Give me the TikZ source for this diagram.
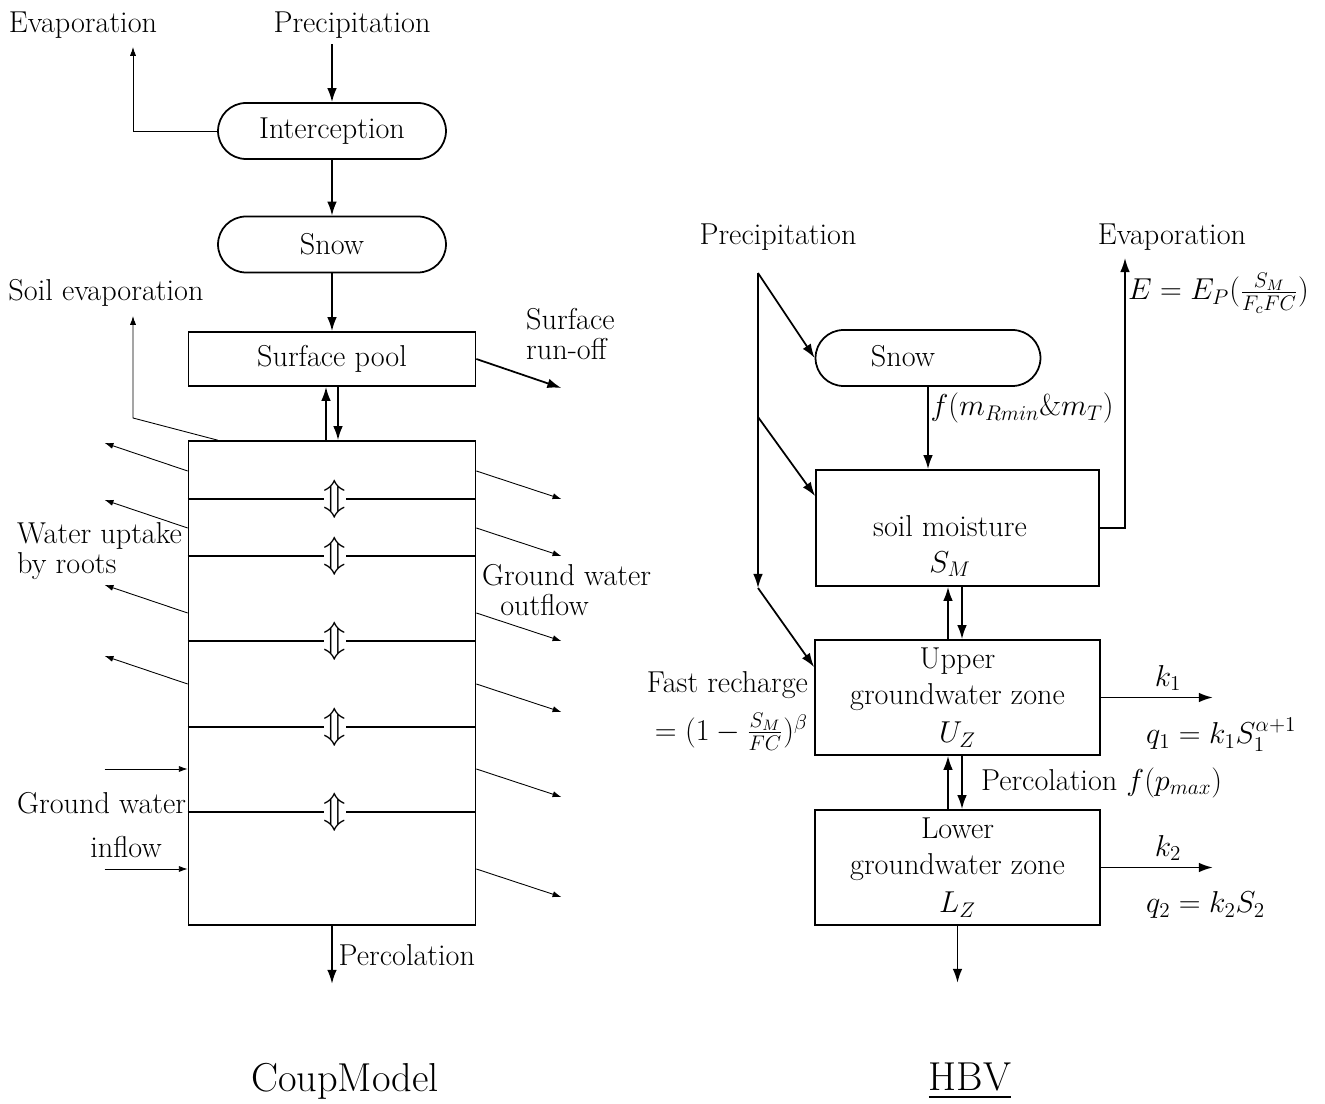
\documentclass[tikz,border=0pt]{standalone}
\usepackage{fix-cm}
\usepackage{amsmath}
\usepackage{tikz}
\usetikzlibrary{
	arrows.meta,
	calc,
	positioning
}
\tikzset{
	every node/.style={font=\fontsize{17.2}{17}\selectfont},
	roundbox/.style={draw,line width=1pt,rounded corners=0.56cm,minimum width=4.56cm,minimum height=1.12cm},
	squarebox/.style={draw,line width=1pt,minimum width=5.7cm,minimum height=2.3cm,align=center,font=\fontsize{17.2}{20.5}\selectfont},
	flow/.style={line width=1pt,-{Latex[length=8pt,width=5.5pt]}},
	thinflow/.style={line width=0.5pt,-{Latex[length=5pt,width=3.5pt]}},
	layerflux/.style={fill=white,inner sep=0pt,font=\fontsize{21}{21}\selectfont},
	title/.style={font=\fontsize{23}{26}\selectfont}
}

\begin{document}
\begin{tikzpicture}[x=0.02cm,y=-0.02cm]
			\useasboundingbox (0,0) rectangle (1325,1104);
			% CoupModel
			\node (evapL) at (83,25) {Evaporation};
			\node (precL) at (352,25) {Precipitation};
			\node[roundbox] (intc) at (332,131) {Interception};
			\node[roundbox] (snowL) at (332,244.5) {Snow};
			\node[squarebox,minimum width=5.74cm,minimum height=1.08cm] (surf) at (332,359) {Surface pool};
			\node[draw,line width=1pt,minimum width=5.74cm,minimum height=9.68cm] (soil) at (332,683) {};
			\coordinate (evL) at (133,47);
			\coordinate (sevk) at (133,418);
			\coordinate (sevt) at (133,316);
			
			\draw[flow] (intc.north |- precL.south) -- (intc.north);
			\draw[thinflow] (intc.west) -| (evL);
			\draw[flow] (intc) -- (snowL);
			\draw[flow] (snowL) -- (surf);
			\draw[flow] (surf.east) -- ++(85,29);
			\draw[flow] ($(soil.north)+(-6,0)$) -- ($(surf.south)+(-6,0)$);
			\draw[flow] ($(surf.south)+(6,0)$) -- ($(soil.north)+(6,0)$);
			\draw[thinflow] ($(soil.north west)+(30,0)$) -- (sevk) -- (sevt);
			\draw[flow] (soil.south) -- ++(0,58) node[midway,anchor=west] {Percolation};
			
			\foreach \y [count=\i] in {499,556,641,727,812} {
				\draw[line width=1pt] (soil.west |- 0,\y) -- (soil.east |- 0,\y);
				\node[layerflux] (lf\i) at (335,\y) {$\Updownarrow$};
			}
			\foreach \y in {471,528,613,684}
				\draw[thinflow] (soil.west |- 0,\y) -- ++(-83,-28);
			\foreach \y in {471,528,613,684,769,869}
				\draw[thinflow] (soil.east |- 0,\y) -- ++(85,28);
			\foreach \y in {769,869}
				\draw[thinflow] (soil.west |- 0,\y) ++(-83,0) -- (soil.west |- 0,\y);
			
			\node (soilev) at (106,293) {Soil evaporation};
			\node[anchor=west,align=left] (runoff) at (520,334) {Surface\\run-off};
			\node[anchor=west,align=left] (uptake) at (11,551) {Water uptake\\by roots};
			\node[anchor=west,align=left] (gwout) at (476,590) {Ground water\\\hspace{0.6em}outflow};
			\node[anchor=west] (gwin) at (11,803) {Ground water};
			\node (inflow) at (126,847) {inflow};
			\node[title] (coup) at (345,1081) {CoupModel};
			
			% HBV
			\node (precH) at (778,237) {Precipitation};
			\node (evapH) at (1172,237) {Evaporation};
			\node[roundbox,minimum width=4.5cm] (snowH) at (928,358) {};
			\node (snowHT) at (903,356) {Snow};
			\node[squarebox,minimum width=5.66cm,minimum height=2.32cm] (moist) at (957.5,528) {};
			\node[align=center,font=\fontsize{17.2}{20.5}\selectfont] (moistT) at (950,546) {soil moisture\\$S_M$};
			\node[squarebox] (upper) at (957.5,697.5) {Upper\\groundwater zone\\[1.5pt]$U_Z$};
			\node[squarebox] (lower) at (957.5,867.5) {Lower\\groundwater zone\\[1.5pt]$L_Z$};
			\coordinate (p0) at (758,273);
			\coordinate (p1) at (758,417);
			\coordinate (p2) at (758,588);
			\coordinate (evR) at (1125,258);
			
			\draw[flow] (p0) -- (p2);
			\draw[flow] (p0) -- (snowH.west);
			\draw[flow] (p1) -- ($(moist.north west)+(0,27)$);
			\draw[flow] (p2) -- ($(upper.north west)+(0,28)$);
			\draw[flow] (snowH.south) -- (snowH.south |- moist.north)
				node[pos=0.26,anchor=west,inner sep=1pt] {$f(m_{Rmin}\&m_T)$};
			\draw[flow] (moist.east) -| (evR);
			\draw[flow] ($(upper.north)+(-9.5,0)$) -- ($(moist.south)+(-9.5,0)$);
			\draw[flow] ($(moist.south)+(4.5,0)$) -- ($(upper.north)+(4.5,0)$);
			\draw[flow] ($(lower.north)+(-9.5,0)$) -- ($(upper.south)+(-9.5,0)$);
			\draw[flow] ($(upper.south)+(4.5,0)$) -- ($(lower.north)+(4.5,0)$)
				node[midway,anchor=west,xshift=7pt] {Percolation $f(p_{max})$};
			\draw[flow] (upper.east) -- ++(112,0) node[pos=0.6,above] {$k_1$};
			\draw[flow] (lower.east) -- ++(112,0) node[pos=0.6,above] {$k_2$};
			\draw[flow] (lower.south) -- ++(0,57);
			
			\node[anchor=west,inner sep=1pt] (eform) at (1126,293) {$E = E_P(\frac{S_M}{F_cFC})$};
			\node[anchor=west] (q1) at (1140,735) {$q_1 = k_1S_1^{\alpha+1}$};
			\node[anchor=west] (q2) at (1140,905) {$q_2 = k_2S_2$};
			\node[anchor=east,inner sep=1pt] (fastr) at (810,685) {Fast recharge};
			\node[anchor=east,inner sep=1pt] (fastf) at (810,732) {$=(1-\frac{S_M}{FC})^{\beta}$};
			\node[title] (hbv) at (970,1081) {\underline{HBV}};
		\end{tikzpicture}
\end{document}
